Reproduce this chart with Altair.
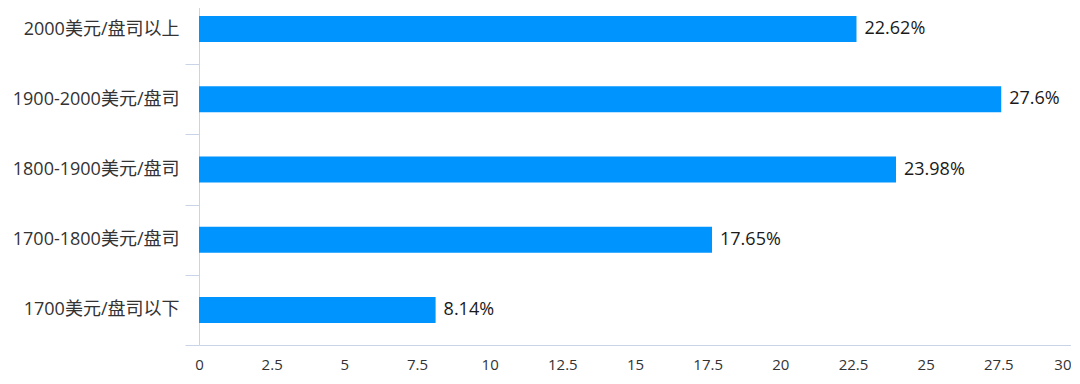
import altair as alt
import pandas as pd

categories = ["2000美元/盘司以上", "1900-2000美元/盘司", "1800-1900美元/盘司",
              "1700-1800美元/盘司", "1700美元/盘司以下"]
values = [22.62, 27.6, 23.98, 17.65, 8.14]
value_labels = ["22.62%", "27.6%", "23.98%", "17.65%", "8.14%"]
x_ticks = [0, 2.5, 5, 7.5, 10, 12.5, 15, 17.5, 20, 22.5, 25, 27.5, 30]

df = pd.DataFrame({"cat": categories, "val": values, "lab": value_labels})

FONT = "Open Sans, Noto Sans CJK SC"
AXIS_COLOR = "#c9d4e6"

y_enc = alt.Y("cat:N", sort=categories, title=None,
              scale=alt.Scale(paddingInner=0, paddingOuter=0, range=[-14, 337]),
              axis=alt.Axis(tickBand="extent", tickSize=14, tickColor=AXIS_COLOR,
                            domainColor=AXIS_COLOR, labelFontSize=18,
                            labelColor="#333333", labelFont=FONT, labelPadding=6))
x_enc = alt.X("val:Q", title=None,
              scale=alt.Scale(domain=[0, 30], nice=False),
              axis=alt.Axis(values=x_ticks, format=".1~f", ticks=False, grid=False,
                            domainColor=AXIS_COLOR, labelFontSize=15,
                            labelColor="#333333", labelFont=FONT, labelPadding=12,
                            labelFlush=False,
                            labelAlign={"condition": {"test": "datum.value >= 30", "value": "right"},
                                        "value": "center"}))

bars = alt.Chart(df).mark_bar(color="#0094ff", size=26).encode(y=y_enc, x=x_enc)
texts = alt.Chart(df).mark_text(align="left", baseline="middle", dx=8, fontSize=18,
                                font=FONT, color="#1a1a1a").encode(
    y=alt.Y("cat:N", sort=categories), x="val:Q", text="lab:N")

chart = (bars + texts).properties(
    width=872, height=337,
    autosize=alt.AutoSizeParams(type="none"),
    padding={"top": 0, "left": 191, "right": 0, "bottom": 31},
).configure(background="white").configure_view(stroke=None)

chart.save("out.html", embed_options={"renderer": "svg", "actions": False})
